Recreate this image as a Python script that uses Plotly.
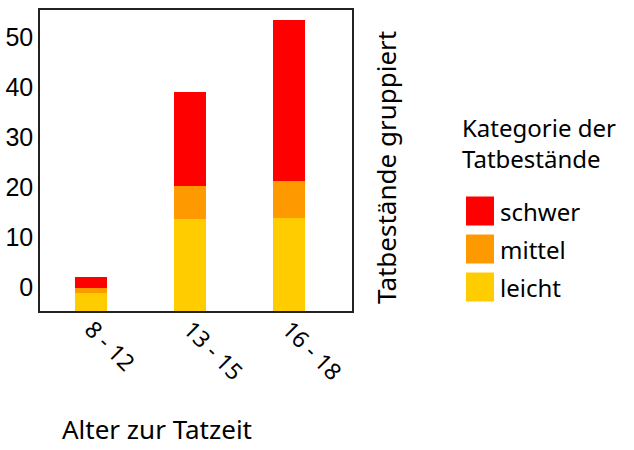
import plotly.graph_objects as go

categories = ["8 - 12", "13 - 15", "16 - 18"]
series_names = ["leicht", "mittel", "schwer"]
series_colors = ["#FFCC00", "#FF9900", "#FF0000"]
leicht = [3.6, 18.4, 18.6]
mittel = [1.0, 6.6, 7.4]
schwer = [2.2, 18.8, 32.2]
series_values = [leicht, mittel, schwer]
y_ticks = [0, 10, 20, 30, 40, 50]

TXT = "Noto Sans"
fig = go.Figure()
for name, color, vals in zip(series_names, series_colors, series_values):
    fig.add_trace(go.Bar(x=categories, y=vals, name=name, marker_color=color,
                         marker_line_width=0, width=0.325, showlegend=False))

fig.update_layout(
    barmode="stack",
    width=634, height=450,
    margin=dict(l=40, r=282, t=10, b=139, autoexpand=False),
    paper_bgcolor="white", plot_bgcolor="white",
    xaxis=dict(range=[-0.52, 2.64], showline=True, mirror=True, linecolor="#222", linewidth=1.5,
               ticks="", tickangle=45, showgrid=False, automargin=False, ticklabelstandoff=-6,
               tickfont=dict(family=TXT, size=23, color="black")),
    yaxis=dict(range=[0, 60.2], showline=True, mirror=True, linecolor="#222", linewidth=1.5,
               tickvals=y_ticks, ticktext=[str(v) for v in y_ticks], ticks="", showgrid=False,
               zeroline=False, ticklabelshift=-24, automargin=False,
               tickfont=dict(family="Liberation Sans", size=25, color="black")),
)

# axis titles
fig.add_annotation(text="Alter zur Tatzeit", xref="paper", yref="paper",
                   x=(60 - 40) / 312, y=-(449 - 311) / 301, xanchor="left", yanchor="bottom",
                   showarrow=False, font=dict(family=TXT, size=26, color="black"))
fig.add_annotation(text="Tatbestände gruppiert", xref="paper", yref="paper",
                   x=(386 - 40) / 312, y=(311 - 168) / 301, xanchor="center", yanchor="middle",
                   textangle=-90, showarrow=False, font=dict(family=TXT, size=26, color="black"))

# legend
fig.add_annotation(text="Kategorie der<br>Tatbestände", xref="paper", yref="paper",
                   x=(460 - 40) / 312, y=(311 - 143) / 301, xanchor="left", yanchor="middle",
                   align="left", showarrow=False, font=dict(family=TXT, size=24, color="black"))
leg_order = list(zip(series_names, series_colors))[::-1]
for i, (name, color) in enumerate(leg_order):
    yc = 211 + i * 38
    fig.add_shape(type="rect", xref="paper", yref="paper",
                  x0=(466 - 40) / 312, x1=(494 - 40) / 312,
                  y0=(311 - (yc - 14.5)) / 301, y1=(311 - (yc + 14.5)) / 301,
                  fillcolor=color, line_width=0)
    fig.add_annotation(text=name, xref="paper", yref="paper",
                       x=(498 - 40) / 312, y=(311 - yc) / 301, xanchor="left", yanchor="middle",
                       showarrow=False, font=dict(family=TXT, size=24, color="black"))

fig.write_html("out.html", config={"displayModeBar": False},
               post_script="document.body.style.margin='0';")
